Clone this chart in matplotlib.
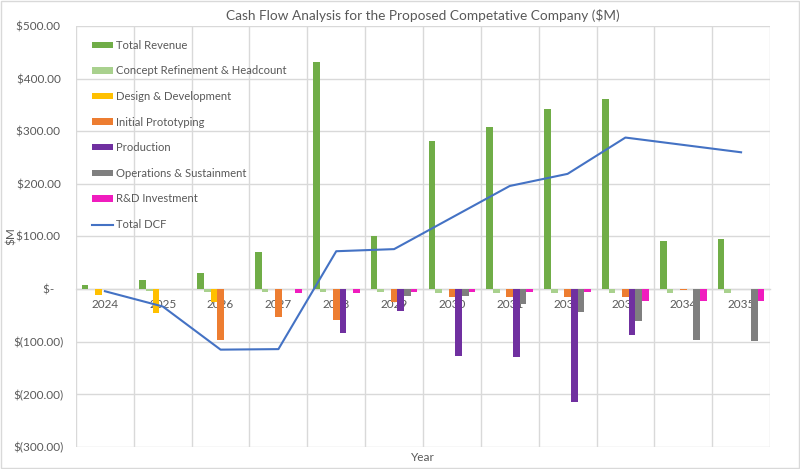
import matplotlib
matplotlib.use("Agg")
import matplotlib.pyplot as plt
import numpy as np
from matplotlib.ticker import FixedLocator, FuncFormatter
from matplotlib.patches import Rectangle

plt.rcParams['font.family'] = ['Lato', 'DejaVu Sans']

years = ['2024', '2025', '2026', '2027', '2028', '2029', '2030', '2031', '2032', '2033', '2034', '2035']
total_revenue = [8, 18, 30, 70, 431, 100, 282, 309, 342, 362, 92, 95]
concept_refinement = [0, -3, -5, -6, -6, -6, -8, -8, -8, -8, -8, -8]
design_development = [-11, -46, -24, 0, 0, 0, 0, 0, 0, 0, 0, 0]
initial_prototyping = [0, 0, -96, -53, -58, -25, -15, -15, -15, -15, -2.5, 0]
production = [0, 0, 0, 0, -84, -41, -128, -129, -214, -87, 0, 0]
operations = [0, 0, 0, 0, 0, -13, -13, -28, -44, -61.5, -96, -98]
rd_investment = [0, 0, 0, -6.5, -6.5, -6, -6, -6, -6, -23.5, -23.5, -23.5]
total_dcf = [-4, -33, -115, -114, 72, 76, 136, 196, 219, 288, 274, 260]

series_names = ['Total Revenue', 'Concept Refinement & Headcount', 'Design & Development',
                'Initial Prototyping', 'Production', 'Operations & Sustainment', 'R&D Investment']
series_values = [total_revenue, concept_refinement, design_development, initial_prototyping,
                 production, operations, rd_investment]
colors = ['#70AD47', '#A9D18E', '#FFC000', '#ED7D31', '#7030A0', '#7F7F7F', '#F01CBE']

text_color = '#595959'
grid_color = '#D9D9D9'

fig = plt.figure(figsize=(8.0, 4.69), dpi=100)
ax = fig.add_axes([0.095, 0.0469, 0.8675, 0.8977])

x = np.arange(len(years))
n = len(series_values)
bw = 0.115
handles = []
for i, (name, vals, c) in enumerate(zip(series_names, series_values, colors)):
    offs = (i - (n - 1) / 2) * bw
    h = ax.bar(x + offs, vals, width=bw, color=c, label=name, zorder=2, linewidth=0)
    handles.append(h)

line, = ax.plot(x, total_dcf, color='#4472C4', linewidth=1.5, label='Total DCF', zorder=3)
handles.append(line)

ax.set_xlim(-0.5, len(years) - 0.5)
ax.set_ylim(-300, 500)

ax.yaxis.set_major_locator(FixedLocator(np.arange(-300, 501, 100)))

def yfmt(v, pos):
    if abs(v) < 1e-9:
        return '$-   '
    if v < 0:
        return '$(%.2f)' % abs(v)
    return '$%.2f ' % v

ax.yaxis.set_major_formatter(FuncFormatter(yfmt))
ax.set_xticks(x)
ax.set_xticklabels(years)
ax.set_xticks(np.arange(-0.5, len(years)), minor=True)

ax.grid(True, which='major', axis='y', color=grid_color, linewidth=1, zorder=0)
ax.grid(True, which='minor', axis='x', color=grid_color, linewidth=1, zorder=0)
ax.grid(False, which='major', axis='x')
ax.set_axisbelow(True)

for s in ['top', 'right', 'left']:
    ax.spines[s].set_visible(False)
ax.spines['bottom'].set_position(('data', 0))
ax.spines['bottom'].set_color(grid_color)
ax.spines['bottom'].set_linewidth(1)
ax.spines['bottom'].set_zorder(1)

ax.tick_params(axis='x', which='both', length=0, pad=7, labelsize=8.5, labelcolor=text_color)
ax.tick_params(axis='y', which='both', length=0, pad=9, labelsize=8.5, labelcolor=text_color)

ax.set_title('Cash Flow Analysis for the Proposed Competative Company ($M)',
             fontsize=9.8, color=text_color, pad=4)
ax.set_ylabel('$M', fontsize=8.5, color=text_color, labelpad=0)
ax.yaxis.set_label_coords(-0.085, 0.5)
ax.set_xlabel('Year', fontsize=8.5, color=text_color)
ax.xaxis.set_label_coords(0.5, -0.012)

leg = ax.legend(handles=handles, loc='upper left', bbox_to_anchor=(0.017, 0.978), frameon=False,
                fontsize=8.1, labelcolor=text_color, handlelength=1.8, handleheight=0.5,
                handletextpad=0.3, labelspacing=1.3, borderaxespad=0)

fig.patches.append(Rectangle((0.0015, 0.002), 0.997, 0.996, transform=fig.transFigure,
                             fill=False, edgecolor=grid_color, linewidth=1))

fig.savefig('out.png', dpi=100)
